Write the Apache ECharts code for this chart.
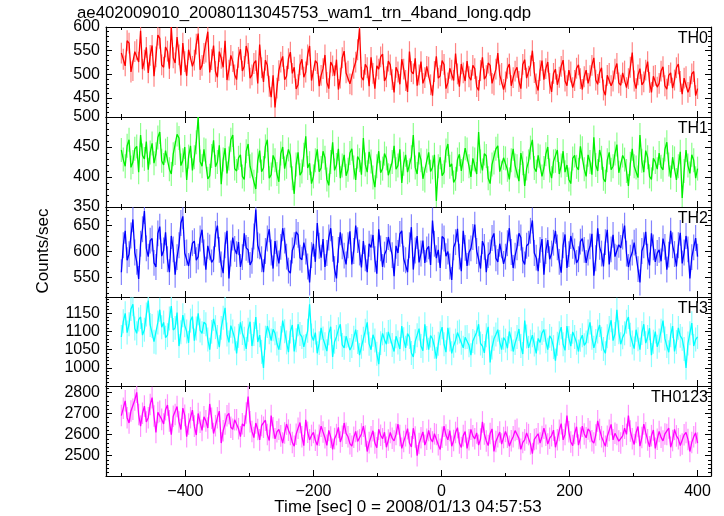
<!DOCTYPE html>
<html>
<head>
<meta charset="utf-8">
<script src="https://cdn.jsdelivr.net/npm/echarts@6/dist/echarts.min.js"></script>
<style>html,body{margin:0;padding:0;background:#fff}#c{width:724px;height:516px}</style>
</head>
<body>
<div id="c"></div>
<script>
// Time bins: start and bin width (sec)
const T0 = -500, DT = 3;
const panelNames = ['TH0', 'TH1', 'TH2', 'TH3', 'TH0123'];
const xTickLabels = [-400, -200, 0, 200, 400];
const yTickLabels = [
  [450, 500, 550, 600],
  [350, 400, 450, 500],
  [550, 600, 650],
  [1000, 1050, 1100, 1150],
  [2500, 2600, 2700, 2800]
];
// typical 1-sigma error bar half-length per panel
const errHalf = [22, 20, 25, 33, 51];
const th0 = [
  545,532,518,571,566,505,508,548,552,526,592,511,530,557,503,540,561,496,537,583,
  576,520,515,558,549,512,600,535,524,579,541,498,566,527,497,552,556,517,530,564,
  586,510,519,544,547,590,504,531,561,506,494,548,534,515,571,488,509,540,527,499,
  489,536,553,507,517,560,544,492,499,523,529,481,563,514,484,530,519,475,452,498,
  430,471,508,526,538,489,496,533,547,502,515,469,478,520,532,494,505,541,560,487,
  486,529,523,475,498,512,541,483,470,526,518,497,531,468,492,535,549,503,507,480,
  478,513,526,552,597,494,488,521,514,475,536,502,470,518,511,537,543,486,495,528,
  520,489,462,515,505,479,532,511,487,463,548,506,501,534,476,499,527,481,493,517,
  515,478,455,506,538,492,497,529,521,470,482,513,509,487,544,501,474,522,503,486,
  528,495,488,519,512,474,466,508,536,490,497,524,519,481,478,511,545,499,502,468,
  484,513,522,476,493,507,515,485,470,521,531,492,496,518,550,504,480,466,508,529,
  489,512,526,481,463,502,511,478,494,517,530,486,476,509,505,472,487,513,520,491,
  468,495,509,481,497,519,535,488,479,504,514,467,456,498,502,476,486,511,523,482,
  477,503,507,472,491,515,546,486,470,499,512,478,484,509,527,483,462,496,498,473,
  481,507,516,476,469,498,503,471,488,514,522,485,458,492,495,462,474,501,506,455,470
];
const th1 = [
  445,429,418,452,462,416,425,447,451,408,470,436,430,459,412,441,456,423,438,466,
  475,427,420,444,447,413,405,438,440,471,465,419,428,450,395,434,452,411,433,458,
  500,426,418,446,444,397,402,435,461,417,425,453,388,429,448,406,431,462,470,414,
  410,432,437,401,396,443,455,418,421,392,380,427,444,409,415,451,462,398,404,436,
  428,405,392,439,450,414,417,446,436,398,372,421,441,403,409,437,468,415,423,389,
  401,428,446,409,415,443,432,396,386,425,458,411,420,447,398,419,437,402,412,440,
  447,416,395,434,428,404,465,421,408,442,426,399,383,418,443,407,414,439,431,403,
  402,425,452,413,419,446,390,422,437,408,411,433,470,416,405,441,428,397,394,427,
  441,409,416,437,360,418,433,402,408,444,455,417,422,391,397,429,438,410,413,448,
  446,418,400,431,429,405,475,426,411,439,435,398,389,421,424,447,452,409,407,432,
  431,412,396,428,447,419,418,393,440,423,385,414,426,449,462,415,409,436,434,401,
  415,438,450,411,398,426,427,445,405,419,443,408,420,396,389,431,436,417,412,451,
  448,413,401,437,425,404,466,420,410,445,432,397,392,428,441,412,418,439,454,407,
  404,436,429,410,385,422,447,418,416,399,470,427,408,444,433,401,396,431,425,413,
  440,417,412,446,458,421,399,433,431,395,418,442,365,410,445,419,406,437,428,398,414
];
const th2 = [
  560,612,640,583,595,631,662,598,580,547,615,643,678,606,590,621,625,578,570,635,
  648,591,602,637,585,560,630,604,555,589,612,655,668,597,598,572,574,616,620,583,
  590,625,642,598,565,611,608,579,585,634,650,603,575,558,612,640,548,596,627,605,
  595,618,570,589,635,607,603,574,582,629,681,612,610,585,560,601,625,643,598,567,
  620,596,577,609,645,621,590,563,558,602,612,638,632,588,584,617,600,571,540,593,
  615,580,655,611,588,624,570,597,627,645,605,566,548,603,637,610,592,575,612,639,
  575,601,650,622,598,569,620,587,560,615,608,632,585,557,643,606,570,594,603,628,
  625,593,552,611,597,634,640,586,583,560,612,647,565,602,630,579,596,621,578,604,
  610,574,660,615,587,603,568,629,625,591,600,571,545,608,618,644,590,562,640,607,
  572,598,606,628,652,601,585,567,620,609,560,593,598,626,635,587,580,615,612,576,
  590,616,645,599,568,592,608,635,627,583,575,611,615,640,660,597,588,562,603,624,
  555,601,622,585,596,617,640,608,580,559,612,633,568,595,630,611,600,578,585,619,
  625,603,578,598,610,634,553,587,645,609,596,571,618,642,575,604,632,590,588,613,
  607,629,650,596,570,588,598,617,620,566,540,601,612,638,590,573,635,608,580,597,
  603,581,625,609,565,594,640,612,595,571,612,636,577,598,630,604,548,589,608,626,590
];
const th3 = [
  1085,1128,1150,1097,1120,1162,1175,1108,1095,1133,1140,1090,1105,1147,1185,1118,1115,1072,1070,1125,
  1160,1112,1125,1083,1090,1136,1170,1104,1110,1152,1060,1098,1145,1117,1100,1069,1130,1141,1075,1108,
  1150,1103,1095,1126,1120,1078,1050,1099,1135,1112,1085,1057,1110,1138,1165,1092,1070,1116,1100,1081,
  1040,1088,1125,1096,1080,1052,1105,1127,1060,1093,1140,1071,1090,1044,1000,1083,1115,1098,1075,1106,
  1095,1067,1050,1082,1130,1101,1070,1043,1100,1118,1045,1076,1120,1093,1085,1058,1060,1102,1175,1089,
  1075,1097,1040,1068,1110,1081,1065,1046,1095,1113,1030,1072,1085,1106,1120,1063,1055,1087,1090,1049,
  1060,1083,1105,1071,1035,1058,1080,1102,1125,1066,1050,1091,1075,1039,1010,1068,1095,1077,1065,1099,
  1100,1063,1045,1087,1070,1052,1115,1079,1055,1094,1085,1041,1030,1073,1090,1108,1060,1047,1120,1082,
  1050,1089,1080,1058,1025,1066,1095,1112,1065,1043,1110,1078,1040,1061,1075,1097,1100,1069,1055,1084,
  1085,1062,1035,1074,1070,1098,1120,1067,1060,1041,1090,1113,1015,1056,1080,1092,1105,1071,1050,1083,
  1075,1054,1100,1079,1045,1068,1085,1107,1060,1038,1130,1086,1055,1072,1090,1064,1040,1081,1070,1096,
  1105,1073,1050,1088,1080,1057,1020,1066,1095,1112,1065,1048,1115,1082,1060,1099,1085,1069,1045,1077,
  1090,1062,1070,1101,1125,1083,1055,1074,1100,1118,1080,1052,1040,1087,1110,1131,1075,1093,1160,1098,
  1065,1084,1095,1127,1140,1091,1070,1053,1105,1079,1050,1096,1120,1068,1085,1109,1035,1072,1100,1058,
  1075,1102,1130,1081,1060,1043,1090,1115,1045,1071,1110,1088,1080,1052,1000,1067,1095,1123,1060,1078,1085
];
const th0123 = [
  2690,2725,2760,2680,2655,2712,2720,2764,2800,2695,2640,2701,2735,2660,2680,2742,2775,2688,2610,2705,
  2710,2672,2650,2718,2740,2665,2600,2687,2695,2733,2660,2624,2725,2691,2590,2650,2680,2716,2640,2598,
  2700,2658,2620,2684,2665,2631,2745,2677,2605,2642,2680,2711,2560,2618,2650,2689,2700,2635,2625,2670,
  2670,2628,2590,2651,2640,2702,2780,2661,2615,2586,2655,2624,2575,2643,2635,2668,2600,2572,2690,2632,
  2580,2613,2625,2594,2560,2608,2650,2621,2600,2563,2545,2602,2630,2657,2590,2548,2670,2611,2575,2596,
  2610,2573,2550,2597,2640,2612,2585,2549,2620,2588,2530,2581,2600,2634,2565,2592,2655,2606,2590,2557,
  2545,2587,2615,2568,2575,2603,2640,2593,2520,2562,2590,2618,2560,2538,2625,2597,2580,2611,2540,2574,
  2610,2583,2570,2601,2650,2596,2535,2567,2595,2628,2560,2542,2630,2589,2500,2558,2585,2613,2550,2578,
  2620,2581,2565,2604,2600,2552,2530,2587,2640,2598,2575,2619,2545,2572,2610,2633,2560,2539,2595,2614,
  2535,2576,2625,2594,2580,2608,2550,2579,2660,2603,2570,2548,2605,2627,2520,2567,2590,2612,2555,2586,
  2615,2588,2545,2571,2590,2619,2625,2582,2530,2563,2575,2608,2600,2556,2510,2577,2580,2604,2560,2591,
  2630,2597,2555,2583,2595,2621,2540,2576,2620,2652,2575,2601,2690,2613,2565,2548,2605,2637,2550,2584,
  2640,2603,2585,2627,2615,2571,2560,2598,2665,2624,2590,2567,2545,2592,2620,2648,2575,2606,2600,2569,
  2560,2594,2630,2601,2690,2617,2580,2553,2610,2638,2545,2586,2650,2609,2575,2542,2595,2622,2535,2578,
  2615,2587,2570,2603,2600,2631,2540,2572,2625,2594,2580,2548,2555,2599,2610,2577,2520,2563,2590,2608,2560
];

const seriesData = [th0, th1, th2, th3, th0123];
const colors = ['#ff0000', '#00ee00', '#0000ff', '#00ffff', '#ff00ff'];
const errColors = ['rgba(255,100,100,0.8)', 'rgba(110,255,110,0.8)', 'rgba(100,100,255,0.8)', 'rgba(120,255,255,0.85)', 'rgba(255,120,255,0.8)'];
const yRanges = [[410, 600], [350, 500], [512, 686], [950, 1195], [2404, 2830]];
const minorSteps = [10, 10, 10, 10, 20];
const xMinorTicks = [-500, -300, -100, 100, 300];
const XMIN = -524, XMAX = 421;
const tops = [27, 117, 207, 297, 386];
const heights = [90, 90, 90, 89, 90];
const FONT = 'Liberation Sans';

const grids = [], xAxes = [], yAxes = [], series = [], graphics = [];
function minorList(lo, hi, step, majors) {
  const out = [];
  for (let v = Math.ceil(lo / step) * step; v <= hi; v += step) if (majors.indexOf(v) < 0) out.push(v);
  return out;
}
for (let i = 0; i < 5; i++) {
  grids.push({left: 106, right: 13, top: tops[i], height: heights[i]});
  const isLast = i === 4;
  const baseX = {type: 'value', gridIndex: i, min: XMIN, max: XMAX, splitLine: {show: false}};
  xAxes.push(Object.assign({}, baseX, {
    position: 'bottom',
    axisLine: {show: true, onZero: false, lineStyle: {color: '#000', width: 1.2}},
    axisTick: {show: true, inside: true, length: 6, customValues: xTickLabels, lineStyle: {color: '#000'}},
    axisLabel: {show: isLast, customValues: xTickLabels, color: '#000', fontSize: 16, fontFamily: FONT, margin: 8,
      formatter: v => (v < 0 ? '\u2212' + Math.abs(v) : '' + v)}
  }));
  xAxes.push(Object.assign({}, baseX, {
    position: 'bottom', axisLine: {show: false, onZero: false},
    axisTick: {show: true, inside: true, length: 3, customValues: xMinorTicks, lineStyle: {color: '#000'}},
    axisLabel: {show: false}
  }));
  xAxes.push(Object.assign({}, baseX, {
    position: 'top',
    axisLine: {show: true, onZero: false, lineStyle: {color: '#000', width: 1.2}},
    axisTick: {show: true, inside: true, length: 6, customValues: xTickLabels, lineStyle: {color: '#000'}},
    axisLabel: {show: false}
  }));
  xAxes.push(Object.assign({}, baseX, {
    position: 'top', axisLine: {show: false, onZero: false},
    axisTick: {show: true, inside: true, length: 3, customValues: xMinorTicks, lineStyle: {color: '#000'}},
    axisLabel: {show: false}
  }));
  const [lo, hi] = yRanges[i];
  const majors = yTickLabels[i];
  const minors = minorList(lo, hi, minorSteps[i], majors);
  const baseY = {type: 'value', gridIndex: i, min: lo, max: hi, splitLine: {show: false}};
  ['left', 'right'].forEach(pos => {
    yAxes.push(Object.assign({}, baseY, {
      position: pos,
      axisLine: {show: true, onZero: false, lineStyle: {color: '#000', width: 1.2}},
      axisTick: {show: true, inside: true, length: 6, customValues: majors, lineStyle: {color: '#000'}},
      axisLabel: {show: pos === 'left', customValues: majors, color: '#000', fontSize: 16, fontFamily: FONT, margin: 6,
        formatter: v => '' + v}
    }));
    yAxes.push(Object.assign({}, baseY, {
      position: pos, axisLine: {show: false, onZero: false},
      axisTick: {show: true, inside: true, length: 3, customValues: minors, lineStyle: {color: '#000'}},
      axisLabel: {show: false}
    }));
  });
  const arr = seriesData[i];
  const pts = arr.map((v, j) => [T0 + j * DT, v, errHalf[i]]);
  const ec = errColors[i];
  series.push({
    type: 'custom', xAxisIndex: 4 * i, yAxisIndex: 4 * i, data: pts, clip: true, silent: true,
    encode: {x: 0, y: 1},
    renderItem: function (params, api) {
      const x = api.value(0), y = api.value(1), e = api.value(2);
      const p1 = api.coord([x, y - e]);
      const p2 = api.coord([x, y + e]);
      return {type: 'line', shape: {x1: p1[0], y1: p1[1], x2: p2[0], y2: p2[1]},
        style: {stroke: ec, lineWidth: 1.2}};
    },
    animation: false
  });
  series.push({
    type: 'line', xAxisIndex: 4 * i, yAxisIndex: 4 * i,
    data: pts.map(p => [p[0], p[1]]),
    showSymbol: false, symbol: 'none', clip: true,
    lineStyle: {color: colors[i], width: 1.3}, itemStyle: {color: colors[i]},
    animation: false
  });
  graphics.push({type: 'text', right: 16, top: tops[i] + 4,
    style: {text: panelNames[i], font: '16px "' + FONT + '"', fill: '#000'}});
}
graphics.push({type: 'text', left: 77, top: 5,
  style: {text: 'ae402009010_20080113045753_wam1_trn_4band_long.qdp', font: '16.8px "' + FONT + '"', fill: '#000'}});
graphics.push({type: 'text', x: 43, y: 251, rotation: Math.PI / 2,
  style: {text: 'Counts/sec', font: '17px "' + FONT + '"', fill: '#000', align: 'center', verticalAlign: 'middle'}});
graphics.push({type: 'text', x: 408, y: 507,
  style: {text: 'Time [sec] 0 = 2008/01/13 04:57:53', font: '17px "' + FONT + '"', fill: '#000', align: 'center', verticalAlign: 'middle'}});

const chart = echarts.init(document.getElementById('c'), null, {renderer: 'canvas'});
chart.setOption({
  animation: false,
  backgroundColor: '#fff',
  grid: grids, xAxis: xAxes, yAxis: yAxes, series: series, graphic: graphics
});
</script>
</body>
</html>
